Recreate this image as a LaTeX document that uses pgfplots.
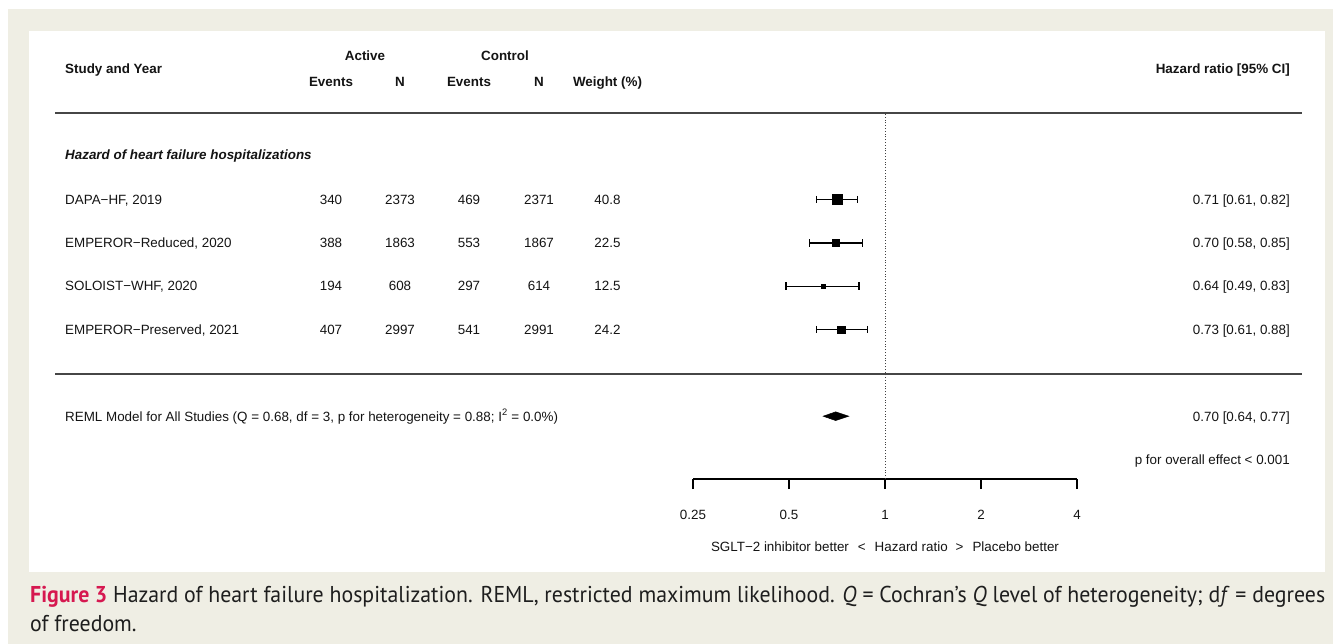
\documentclass[border=0pt]{standalone}
\usepackage{fontspec}
\setmainfont{Liberation Sans}
\newfontfamily\capfont{PT Sans}
\usepackage{pgfplots}
\pgfplotsset{compat=1.18}
\definecolor{beige}{RGB}{239,238,228}
\definecolor{figred}{RGB}{214,24,80}
\definecolor{captxt}{RGB}{30,30,30}
\definecolor{rulegray}{RGB}{70,70,70}
\newlength\capw
\newcommand\capsize{\fontsize{23}{27}\selectfont}
\newcommand\chartsize{\fontsize{13.45}{15}\selectfont}
\newcommand\capone{\textcolor{figred}{\bfseries Figure 3} Hazard of heart failure hospitalization. REML, restricted maximum likelihood. \textit{Q} = Cochran’s \textit{Q} level of heterogeneity; d\textit{f} = degrees}
\begin{document}%
\settowidth\capw{\capfont\capsize\capone}%
\pgfmathsetmacro\capsx{1299.86/\capw}%
\begin{tikzpicture}[x=1bp,y=-1bp,every node/.style={inner sep=0pt,font=\chartsize,text=black!92}]
\useasboundingbox (0,0) rectangle (1333,644);
\fill[beige] (8,9) rectangle (1333,644);
\fill[white] (29,31) rectangle (1325,572);
% header
\node[anchor=base west,font=\chartsize\bfseries] at (65,73.7) {Study and Year};
\node[anchor=base,font=\chartsize\bfseries] at (365,61) {Active};
\node[anchor=base,font=\chartsize\bfseries] at (505,61) {Control};
\node[anchor=base,font=\chartsize\bfseries] at (331,87) {Events};
\node[anchor=base,font=\chartsize\bfseries] at (400,87) {N};
\node[anchor=base,font=\chartsize\bfseries] at (469,87) {Events};
\node[anchor=base,font=\chartsize\bfseries] at (539,87) {N};
\node[anchor=base,font=\chartsize\bfseries] at (607.5,87) {Weight (\%)};
\node[anchor=base east,font=\chartsize\bfseries] at (1290,73.7) {Hazard ratio [95\% CI]};
\draw[rulegray,line width=2.2bp] (55,113) -- (1302,113);
\draw[rulegray,line width=2.2bp] (55,374) -- (1302,374);
\node[anchor=base west,font=\chartsize\bfseries\itshape] at (65,160) {Hazard of heart failure hospitalizations};
% rows
\foreach \name/\ae/\an/\ce/\cn/\w/\hr/\y in {
  {DAPA−HF, 2019}/340/2373/469/2371/40.8/{0.71 [0.61, 0.82]}/204,
  {EMPEROR−Reduced, 2020}/388/1863/553/1867/22.5/{0.70 [0.58, 0.85]}/247.3,
  {SOLOIST−WHF, 2020}/194/608/297/614/12.5/{0.64 [0.49, 0.83]}/290.7,
  {EMPEROR−Preserved, 2021}/407/2997/541/2991/24.2/{0.73 [0.61, 0.88]}/334}{
  \node[anchor=base west] at (65,\y) {\name};
  \node[anchor=base] at (331,\y) {\ae};
  \node[anchor=base] at (400,\y) {\an};
  \node[anchor=base] at (469,\y) {\ce};
  \node[anchor=base] at (539,\y) {\cn};
  \node[anchor=base] at (607.5,\y) {\w};
  \node[anchor=base east] at (1290,\y) {\hr};
}
\node[anchor=base west] at (65,421) {REML Model for All Studies (Q = 0.68, df = 3, p for heterogeneity = 0.88; I\textsuperscript{2} = 0.0\%)};
\node[anchor=base east] at (1290,421) {0.70 [0.64, 0.77]};
\node[anchor=base east] at (1290,464) {p for overall effect < 0.001};
\node[anchor=base] at (885,551) {SGLT−2 inhibitor better\hspace{9bp}<\hspace{9bp}Hazard ratio\hspace{8bp}>\hspace{9bp}Placebo better};
% forest axis
\coordinate (A) at (693,479);
\begin{axis}[at={(A)},anchor=south west,scale only axis,
  width=384bp,height=366bp,
  xmode=log,log basis x=2,xmin=0.25,xmax=4,ymin=0,ymax=8.45,
  axis x line*=bottom,axis y line=none,
  x axis line style={-,line width=1.4bp,black},
  xtick={0.25,0.5,1,2,4},xticklabels={0.25,0.5,1,2,4},
  xminorticks=false,
  tick align=outside,major tick length=10bp,
  every tick/.style={black,line width=1.4bp},
  x tick label style={font=\chartsize,inner sep=0pt,yshift=-21bp,text=black!92},
  clip=false]
\addplot[black!75,line width=0.9bp,dash pattern=on 1bp off 1.8bp] coordinates {(1,0) (1,8.45)};
% confidence intervals
\addplot[black,line width=1.5bp,mark=|,mark size=3.8bp,mark options={solid,line width=1.5bp}] coordinates {(0.61,6.45) (0.82,6.45)};
\addplot[black,line width=1.5bp,mark=|,mark size=3.8bp,mark options={solid,line width=1.5bp}] coordinates {(0.58,5.45) (0.85,5.45)};
\addplot[black,line width=1.5bp,mark=|,mark size=3.8bp,mark options={solid,line width=1.5bp}] coordinates {(0.49,4.45) (0.83,4.45)};
\addplot[black,line width=1.5bp,mark=|,mark size=3.8bp,mark options={solid,line width=1.5bp}] coordinates {(0.61,3.45) (0.88,3.45)};
% point estimates (size ~ weight)
\addplot[only marks,mark=square*,mark size=5bp,black] coordinates {(0.71,6.45)};
\addplot[only marks,mark=square*,mark size=3.6bp,black] coordinates {(0.70,5.45)};
\addplot[only marks,mark=square*,mark size=2.3bp,black] coordinates {(0.64,4.45)};
\addplot[only marks,mark=square*,mark size=3.8bp,black] coordinates {(0.73,3.45)};
% pooled estimate
\addplot[fill=black,draw=black,line width=0.5bp] coordinates {(0.64,1.45) (0.70,1.55) (0.77,1.45) (0.70,1.35)} -- cycle;
\end{axis}
% caption
\node[anchor=base west,font=\capfont\capsize,text=captxt] at (30,602) {\scalebox{\capsx}[1]{\capone}};
\node[anchor=base west,font=\capfont\capsize,text=captxt] at (30,631) {\scalebox{\capsx}[1]{of freedom.}};
\end{tikzpicture}
\end{document}
